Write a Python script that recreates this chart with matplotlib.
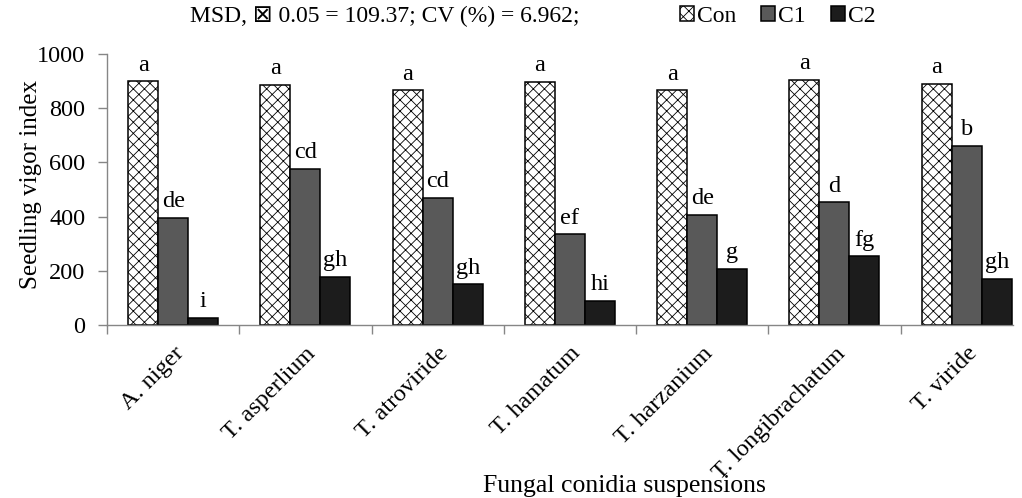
import numpy as np
import matplotlib
matplotlib.use("Agg")
import matplotlib.pyplot as plt


categories = ["A. niger", "T. asperlium", "T. atroviride", "T. hamatum",
              "T. harzanium", "T. longibrachatum", "T. viride"]

con_values = [900, 886, 866, 898, 866, 905, 890]
c1_values = [396, 576, 470, 335, 406, 453, 662]
c2_values = [27, 177, 150, 89, 207, 253, 170]

con_letters = ["a", "a", "a", "a", "a", "a", "a"]
c1_letters = ["de", "cd", "cd", "ef", "de", "d", "b"]
c2_letters = ["i", "gh", "gh", "hi", "g", "fg", "gh"]

series_names = ["Con", "C1", "C2"]
y_ticks = [0, 200, 400, 600, 800, 1000]

note_text = "MSD, \u22a0 0.05 = 109.37; CV (%) = 6.962;"


plt.rcParams["font.family"] = ["Liberation Serif", "DejaVu Sans"]
plt.rcParams["hatch.linewidth"] = 0.6
FS = 17.5
LABEL_FS = 18
TOP_FS = 17
AXIS_GRAY = "#868686"


def main():
    fig = plt.figure(figsize=(10.22, 4.98), dpi=100)
    ax = fig.add_axes([0.1047, 0.3474, 0.8865, 0.5442])

    x = np.arange(len(categories))
    width = 0.227

    series = [con_values, c1_values, c2_values]
    letters = [con_letters, c1_letters, c2_letters]
    faces = ["white", "#595959", "#1c1c1c"]
    hatches = ["xxx", None, None]

    for k in range(3):
        bars = ax.bar(x + (k - 1) * width, series[k], width,
                      color=faces[k], edgecolor="black", linewidth=1.1,
                      hatch=hatches[k], label=series_names[k], zorder=2)
        for rect, txt in zip(bars, letters[k]):
            ax.annotate(txt, (rect.get_x() + rect.get_width() / 2, rect.get_height()),
                        xytext=(0, 4), textcoords="offset points",
                        ha="center", va="bottom", fontsize=FS)

    ax.set_xlim(-0.5, 6.35)
    ax.set_ylim(0, 1000)
    ax.set_yticks(y_ticks)
    ax.tick_params(axis="y", labelsize=FS, length=6.5, color=AXIS_GRAY, width=1, pad=9)

    ax.set_xticks(x)
    ax.set_xticks(np.arange(len(categories)) - 0.5, minor=True)
    ax.set_xticklabels(categories, rotation=45, ha="right", va="top",
                       rotation_mode="anchor", fontsize=FS)
    ax.tick_params(axis="x", which="major", length=0, pad=13)
    ax.tick_params(axis="x", which="minor", length=6.5, color=AXIS_GRAY, width=1)

    for side in ["top", "right"]:
        ax.spines[side].set_visible(False)
    for side in ["left", "bottom"]:
        ax.spines[side].set_color(AXIS_GRAY)
        ax.spines[side].set_linewidth(1)

    ax.set_ylabel("Seedling vigor index", fontsize=LABEL_FS)
    ax.yaxis.set_label_coords(-0.072, 0.52)

    fig.text(624 / 1022, 1 - 486 / 498, "Fungal conidia suspensions",
             ha="center", va="center", fontsize=18.5)
    fig.text(190 / 1022, 1 - 16 / 498, note_text, ha="left", va="center",
             fontsize=TOP_FS)

    fig.legend(loc="center left", bbox_to_anchor=(668 / 1022, 1 - 16 / 498),
               ncol=3, frameon=False, fontsize=TOP_FS, borderpad=0,
               handlelength=0.6, handleheight=0.6, handletextpad=0.13,
               columnspacing=1.05)

    fig.savefig("out.png", dpi=100)


if __name__ == "__main__":
    main()
